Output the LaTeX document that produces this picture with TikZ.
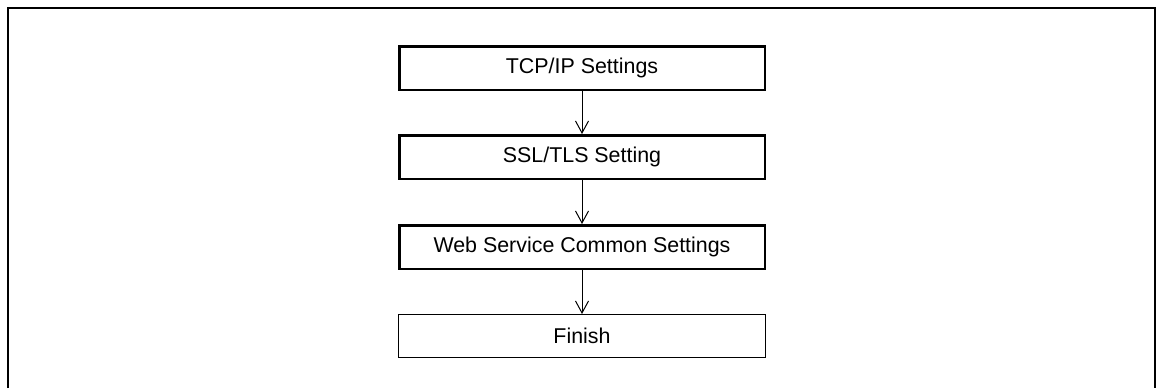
\documentclass[tikz,border=0pt]{standalone}
\usepackage{fontspec}
\setmainfont{Liberation Sans}
\usetikzlibrary{arrows.meta,positioning}

\begin{document}
\begin{tikzpicture}[x=0.5pt,y=-0.5pt,
    stepbox/.style={draw,line width=1.25pt,minimum width=182.75pt,minimum height=21.75pt,
      inner sep=0pt,font=\fontsize{10.7}{12}\selectfont},
    lastbox/.style={stepbox,line width=0.6pt,minimum width=183.4pt,minimum height=21.4pt},
    flow/.style={line width=0.5pt,-{Straight Barb[length=6pt,width=6.5pt]}}]
  \useasboundingbox (0,0) rectangle (1161,388);
  % open frame
  \draw[line width=1pt] (8,388) -- (8,7.5) -- (1155,7.5) -- (1155,388);
  \node[stepbox] (tcp) at (582,68) {TCP/IP Settings};
  \node[stepbox,below=21.5pt of tcp] (ssl) {SSL/TLS Setting};
  \node[stepbox,below=22pt of ssl] (web) {Web Service Common Settings};
  \node[lastbox,below=22pt of web] (fin) {Finish};
  \draw[flow] (tcp) -- (ssl);
  \draw[flow] (ssl) -- (web);
  \draw[flow] (web) -- (fin);
\end{tikzpicture}
\end{document}
